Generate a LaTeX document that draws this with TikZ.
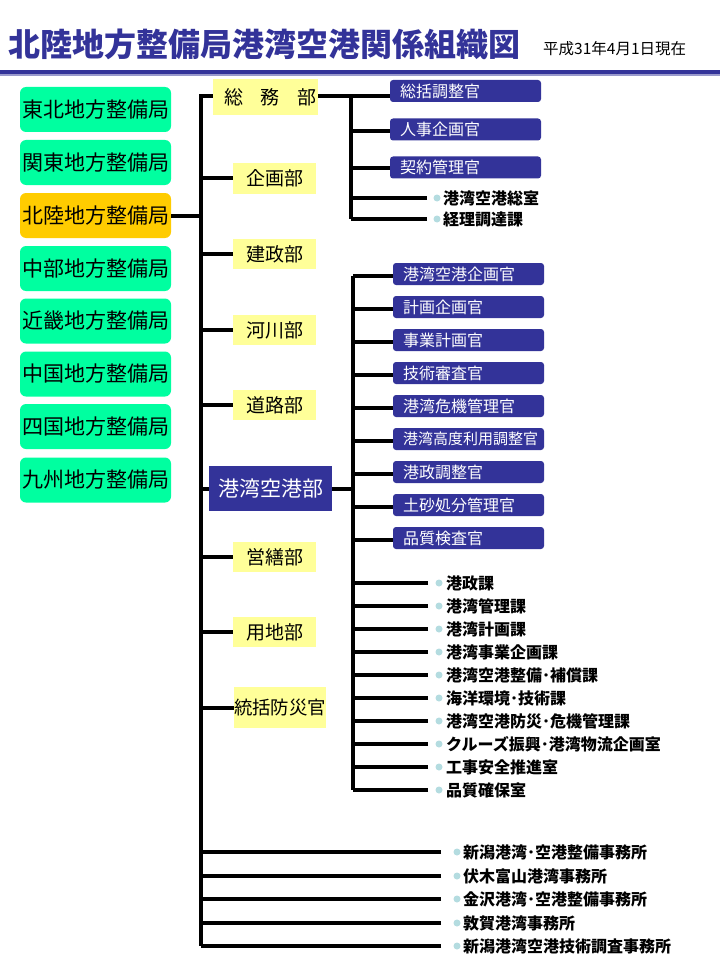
\documentclass[tikz,border=0pt]{standalone}
\usepackage{fontspec}
\setmainfont{Noto Sans CJK JP}
\definecolor{navy}{HTML}{333399}
\definecolor{mint}{HTML}{00FFA0}
\definecolor{amber}{HTML}{FFCC00}
\definecolor{pale}{HTML}{FFFF99}
\definecolor{dotc}{HTML}{B4DCE0}
\definecolor{lavender}{HTML}{9999CC}
\begin{document}
\begin{tikzpicture}[x=1pt,y=-1pt,
  conn/.style={line width=4pt, line join=miter},
  bureau/.style={fill=mint, rounded corners=6pt, minimum width=151pt, minimum height=45pt, inner sep=0pt, font=\fontsize{21}{21}\selectfont},
  dept/.style={fill=pale, inner sep=0pt, minimum width=83pt, minimum height=30pt, font=\fontsize{19}{19}\selectfont},
  office/.style={fill=navy, rounded corners=3pt, text=white, text width=131pt, inner xsep=10pt, inner ysep=0pt, minimum height=22pt, align=left, font=\fontsize{16}{16}\selectfont},
  bul/.style={circle, fill=dotc, minimum size=7pt, inner sep=0pt},
  item/.style={anchor=west, inner sep=0pt, font=\fontsize{16}{16}\selectfont\bfseries}]
\useasboundingbox (0,0) rectangle (720,960);
\fill[white] (0,0) rectangle (720,960);

% title
\node[anchor=west, inner sep=0pt, text=navy, font=\fontsize{32}{32}\selectfont\bfseries] (title) at (8,44) {北陸地方整備局港湾空港関係組織図};
\node[anchor=west, inner sep=0pt, font=\fontsize{15.5}{15.5}\selectfont] (date) at (543,48.5) {平成31年4月1日現在};
\fill[navy] (0,70) rectangle (720,74);
\fill[lavender] (0,74) rectangle (720,76);

% regional bureaus
\node[bureau] (b1) at (95.5,109.5) {東北地方整備局};
\node[bureau] (b2) at (95.5,162.5) {関東地方整備局};
\node[bureau, fill=amber] (b3) at (95.5,215.5) {北陸地方整備局};
\node[bureau] (b4) at (95.5,268.5) {中部地方整備局};
\node[bureau] (b5) at (95.5,321) {近畿地方整備局};
\node[bureau] (b6) at (95.5,374) {中国地方整備局};
\node[bureau] (b7) at (95.5,426.5) {四国地方整備局};
\node[bureau] (b8) at (95.5,480) {九州地方整備局};

% departments
\node[dept, minimum width=105pt, minimum height=36pt, text width=103pt, align=right] (dSou) at (265.5,97) {総\hspace{18pt}務\hspace{18pt}部};
\node[dept] (dKik) at (274.5,178.5) {企画部};
\node[dept] (dKen) at (274.5,254) {建政部};
\node[dept] (dKas) at (274.5,330) {河川部};
\node[dept] (dDou) at (274.5,405) {道路部};
\node[dept, fill=navy, text=white, minimum width=123pt, minimum height=45pt, font=\fontsize{21}{21}\selectfont] (dKou) at (270.5,488.5) {港湾空港部};
\node[dept] (dEiz) at (274.5,557) {営繕部};
\node[dept] (dYou) at (274.5,632) {用地部};
\node[dept, minimum width=92pt, minimum height=41pt, font=\fontsize{18.4}{18.4}\selectfont] (dTou) at (280,707.5) {統括防災官};

% main trunk
\coordinate (T0) at (201,96);
\coordinate (T9) at (201,946);
\draw[conn] (dSou.west |- T0) -- (T0) -- (T9);
\draw[conn] (b3.east) -- (b3.east -| T0);
\foreach \n in {dKik,dKen,dKas,dDou,dKou,dEiz,dYou,dTou}
  \draw[conn] (\n.west) -- (\n.west -| T0);

% 総務部 offices
\node[office] (o1) at (465.5,91) {総括調整官};
\node[office] (o2) at (465.5,129.5) {人事企画官};
\node[office] (o3) at (465.5,167.5) {契約管理官};
\coordinate (S1a) at (351,96);
\coordinate (S1b) at (351,219);
\draw[conn] (dSou.east |- S1a) -- (o1.west |- S1a);
\draw[conn] (S1a) -- (S1b);
\coordinate (c2) at (351,131);
\coordinate (c3) at (351,168);
\draw[conn] (c2) -- (c2 -| o2.west);
\draw[conn] (c3) -- (c3 -| o3.west);
\foreach \y/\t [count=\i] in {198/港湾空港総室,219/経理調達課}{
  \coordinate (la\i) at (427,\y);
  \draw[conn] (la\i) -- (la\i -| S1a);
  \node[bul] (pa\i) at (437,\y) {};
  \node[item] (ta\i) at (443,\y) {\t};
}

% 港湾空港部 offices
\coordinate (S2a) at (353,276);
\coordinate (S2b) at (353,790);
\draw[conn] (S2a) -- (S2b);
\draw[conn] (dKou.east) -- (dKou.east -| S2a);
\foreach \t [count=\i from 0] in {港湾空港企画官,計画企画官,事業計画官,技術審査官,港湾危機管理官,{\fontsize{15}{15}\selectfont 港湾高度利用調整官},港政調整官,土砂処分管理官,品質検査官}{
  \node[office] (k\i) at (468.5,{274+33*\i}) {\t};
  \coordinate (kc\i) at (353,{276+33*\i});
  \draw[conn] (kc\i) -- (kc\i -| k\i.west);
}
\foreach \t [count=\i from 0] in {港政課,港湾管理課,港湾計画課,港湾事業企画課,港湾空港整備･補償課,海洋環境･技術課,港湾空港防災･危機管理課,クルーズ振興･港湾物流企画室,工事安全推進室,品質確保室}{
  \coordinate (lb\i) at (428,{583+23*\i});
  \draw[conn] (lb\i) -- (lb\i -| S2a);
  \node[bul] (pb\i) at (439,{583+23*\i}) {};
  \node[item] (tb\i) at (446,{583+23*\i}) {\t};
}

% offices under the bureau
\foreach \y/\t [count=\i] in {852/新潟港湾･空港整備事務所,876/伏木富山港湾事務所,899/金沢港湾･空港整備事務所,923/敦賀港湾事務所,946/新潟港湾空港技術調査事務所}{
  \coordinate (lc\i) at (441,\y);
  \draw[conn] (lc\i) -- (lc\i -| T0);
  \node[bul] (pc\i) at (457,\y) {};
  \node[item] (tc\i) at (463,\y) {\t};
}
\end{tikzpicture}
\end{document}
